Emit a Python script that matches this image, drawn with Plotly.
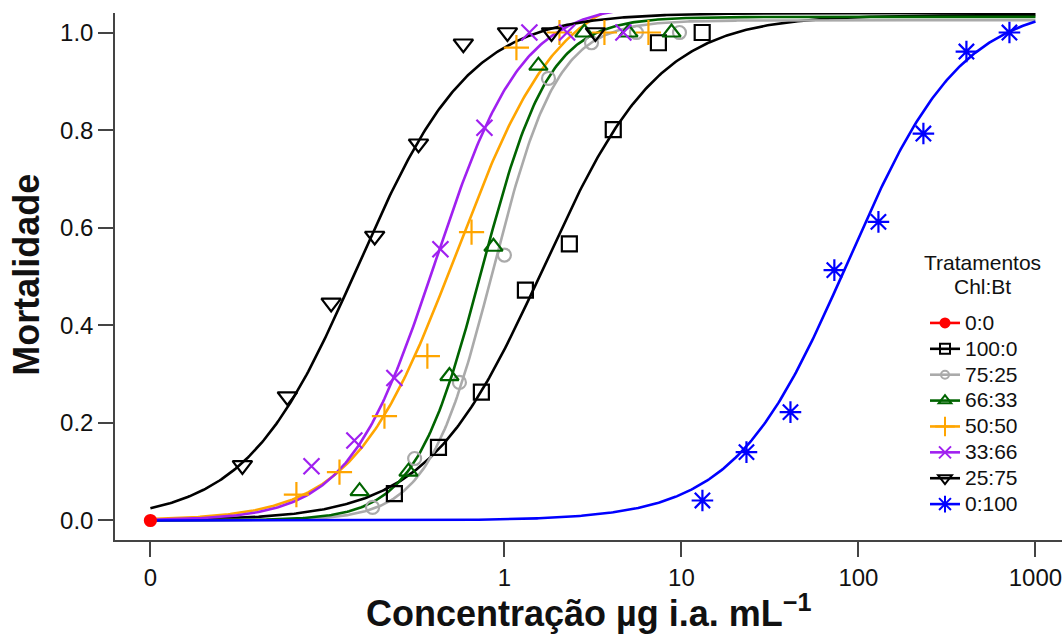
import numpy as np
import plotly.graph_objects as go

# ---------------- data ----------------
treatments = ["0:0", "100:0", "75:25", "66:33", "50:50", "33:66", "25:75", "0:100"]

conc_0_0 = [0.01]
mort_0_0 = [0.0]

conc_100_0 = [0.239, 0.424, 0.741, 1.314, 2.327, 4.12, 7.41, 13.1]
mort_100_0 = [0.055, 0.150, 0.263, 0.472, 0.567, 0.801, 0.979, 1.0]

conc_75_25 = [0.180, 0.311, 0.557, 1.0, 1.774, 3.105, 5.57, 9.75]
mort_75_25 = [0.027, 0.127, 0.283, 0.544, 0.906, 0.979, 1.0, 1.0]

conc_66_33 = [0.152, 0.287, 0.489, 0.867, 1.556, 2.831, 5.02, 8.79]
mort_66_33 = [0.060, 0.100, 0.296, 0.561, 0.932, 1.0, 1.0, 1.0]

conc_50_50 = [0.0668, 0.117, 0.210, 0.367, 0.652, 1.169, 2.046, 3.673, 6.51]
mort_50_50 = [0.053, 0.099, 0.214, 0.337, 0.591, 0.969, 1.0, 1.0, 1.0]

conc_33_66 = [0.0813, 0.142, 0.239, 0.435, 0.771, 1.384, 2.26, 4.70]
mort_33_66 = [0.111, 0.164, 0.292, 0.556, 0.805, 1.0, 1.0, 1.0]

conc_25_75 = [0.0331, 0.0594, 0.105, 0.185, 0.327, 0.586, 1.04, 1.845, 3.266]
mort_25_75 = [0.113, 0.254, 0.446, 0.583, 0.772, 0.977, 1.0, 1.0, 1.0]

conc_0_100 = [13.14, 23.3, 41.3, 73.1, 129.7, 232.8, 407.4, 713.0]
mort_0_100 = [0.041, 0.140, 0.222, 0.513, 0.612, 0.793, 0.961, 1.0]

# fitted log-logistic parameters (upper limit, ED50, Hill slope)
fit_upper = [None, 1.036, 1.025, 1.032, 1.10, 1.06, 1.04, 1.06]
fit_ed50 = [None, 1.66, 0.861, 0.748, 0.537, 0.407, 0.148, 87.1]
fit_hill = [None, 1.325, 2.39, 2.30, 1.50, 1.78, 1.37, 1.355]

x_tickvals = [0.01, 1, 10, 100, 1000]
x_ticktext = ["0", "1", "10", "100", "1000"]
y_tickvals = [0, 0.2, 0.4, 0.6, 0.8, 1.0]
y_ticktext = ["0.0", "0.2", "0.4", "0.6", "0.8", "1.0"]

legend_title_lines = ["Tratamentos", "Chl:Bt"]

# ---------------- styles ----------------
conc = [conc_0_0, conc_100_0, conc_75_25, conc_66_33, conc_50_50, conc_33_66, conc_25_75, conc_0_100]
mort = [mort_0_0, mort_100_0, mort_75_25, mort_66_33, mort_50_50, mort_33_66, mort_25_75, mort_0_100]
colors = ["#FF0000", "#000000", "#AAAAAA", "#006400", "#FFA500", "#A020F0", "#000000", "#0000FF"]
symbols = ["circle", "square-open", "circle-open", "triangle-up-open", "cross-thin-open",
           "x-thin-open", "triangle-down-open", "asterisk-open"]
msizes = [11, 15, 13, 16, 18, 16, 17, 18]
leg_sizes = [9, 10, 8, 11, 14, 12, 12, 14]

FONT = "Liberation Sans, Arial, sans-serif"
TXT = "#111111"

fig = go.Figure()
xgrid = np.logspace(-2, 3, 500)

for i, name in enumerate(treatments):
    c = colors[i]
    if fit_upper[i] is not None:
        ycurve = fit_upper[i] / (1.0 + (fit_ed50[i] / xgrid) ** fit_hill[i])
        fig.add_trace(go.Scatter(x=xgrid, y=ycurve, mode="lines",
                                 line=dict(color=c, width=2.6),
                                 showlegend=False, hoverinfo="skip"))
for i, name in enumerate(treatments):
    c = colors[i]
    fig.add_trace(go.Scatter(x=conc[i], y=mort[i], mode="markers",
                             marker=dict(symbol=symbols[i], size=msizes[i], color=c,
                                         line=dict(color=c, width=2.2)),
                             showlegend=False, cliponaxis=False))
for i, name in enumerate(treatments):
    c = colors[i]
    fig.add_trace(go.Scatter(x=[None], y=[None], mode="lines+markers",
                             name='<span style="font-size:21px">%s</span>' % name,
                             line=dict(color=c, width=2.6),
                             marker=dict(symbol=symbols[i], size=leg_sizes[i], color=c,
                                         line=dict(color=c, width=2))))

axis_common = dict(showline=True, linecolor="#444444", linewidth=1.5, ticks="outside",
                   ticklen=15, tickwidth=1.5, tickcolor="#444444", showgrid=False,
                   zeroline=False, ticklabeloverflow="allow",
                   tickfont=dict(family=FONT, size=24, color=TXT))

annotations = [
    dict(text="<b>Mortalidade</b>", xref="paper", yref="paper", x=-0.093, y=0.503,
         xanchor="center", yanchor="middle", textangle=-90, showarrow=False,
         font=dict(family=FONT, size=36, color=TXT)),
    dict(text="<b>Concentração µg i.a. mL<sup>−1</sup></b>", xref="paper", yref="paper",
         x=0.5, y=-0.134, xanchor="center", yanchor="middle", showarrow=False,
         font=dict(family=FONT, size=36, color=TXT)),
]
for k, line in enumerate(legend_title_lines):
    annotations.append(dict(text=line, xref="paper", yref="paper",
                            x=(982 - 115) / 947, y=(540 - (262 + 24 * k)) / 527,
                            xanchor="center", yanchor="middle", showarrow=False,
                            font=dict(family=FONT, size=21, color=TXT)))

fig.update_layout(
    width=1062, height=634,
    margin=dict(l=115, r=0, t=13, b=94),
    plot_bgcolor="white", paper_bgcolor="white",
    font=dict(family=FONT, color=TXT),
    xaxis=dict(type="log", range=[-2.2, 3.15], tickvals=x_tickvals, ticktext=x_ticktext,
               **axis_common),
    yaxis=dict(range=[-0.04, 1.04], tickvals=y_tickvals, ticktext=y_ticktext,
               **axis_common),
    legend=dict(x=(925 - 115) / 947, y=(540 - 305) / 527, xanchor="left", yanchor="top",
                bgcolor="rgba(0,0,0,0)", font=dict(family=FONT, size=17.6, color=TXT),
                tracegroupgap=0),
    annotations=annotations,
)

fig.write_html("out.html")
